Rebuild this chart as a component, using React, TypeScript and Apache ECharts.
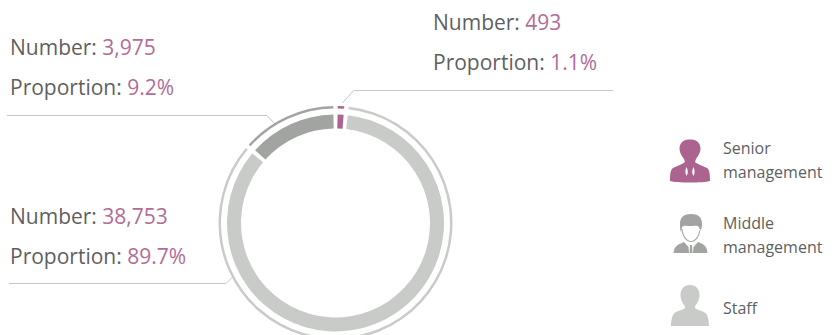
import React, { useEffect, useRef } from "react";
import * as echarts from "echarts";

const categories = ["Senior management", "Staff", "Middle management"];
const numbers = [493, 38753, 3975];
const proportions = ["1.1%", "89.7%", "9.2%"];
// Share of the ring each arc occupies in the picture (percent).
const arcShares = [1.5, 84.9, 13.6];
const colors = ["#ad6390", "#c9cbc9", "#a2a4a2"];

const FONT = '"Open Sans", sans-serif';
const TEXT = "#5f5f5f";
const VALUE = "#b26c98";
const LINE = "#c6c6c6";

const senior =
  "M30 9.5C36 9.5 40 12 40.5 18C40.5 23 38 26 36 29L35 32C37 34 43 36 47 38C49.5 39.5 50 44 50 51C44 53 16 53 10 51C10 44 10.5 39.5 13 38C17 36 23 34 25 32L24 29C22 26 19.5 23 19.5 18C20 12 24 9.5 30 9.5Z" +
  "M26.5 37C25 40 25 43 26.5 46C28.5 43 28 40 26.5 37Z" +
  "M33.5 37C32 40 31.5 43 33.5 46C35 43 35 40 33.5 37Z";
const middle =
  "M31 9C38 9 42 12 42 19C42 23 41 25 40 27L39 22C37 20 34 21 30 21C26 21 24 20 22 22L21 27C20 25 20 22 20 19C20 12 24 9 31 9Z" +
  "M21.5 24C22 31 26 37 31 37C36 37 40 31 40.5 24L39.5 24C39 30 35.5 36 31 36C26.5 36 23 30 22.5 24Z" +
  "M13.5 48C14 42 17 39.5 24 37L28.5 42L29 48Z" +
  "M30 40L32 40L32.5 48L29.6 48Z" +
  "M47.5 48C47 42 45 39.5 38 37L33.5 42L33 48Z";
const staff =
  "M30 10C36 10 39.5 14 39.5 20C39.5 25 37 29 35 31L35 33C37 35 43 36 45.5 38C48 40 49 46 49 51L11 51C11 46 12 40 14.5 38C17 36 23 35 25 33L25 31C23 29 20.5 25 20.5 20C20.5 14 24 10 30 10Z";

echarts.graphic.registerShape("iconSenior", echarts.graphic.extendPath(senior, {}) as any);
echarts.graphic.registerShape("iconMiddle", echarts.graphic.extendPath(middle, {}) as any);
echarts.graphic.registerShape("iconStaff", echarts.graphic.extendPath(staff, {}) as any);

const fmt = (n: number) => n.toLocaleString("en-US");

const callout = (i: number, x: number, y: number) => ({
  type: "text",
  x,
  y,
  silent: true,
  style: {
    text: `{a|Number: }{b|${fmt(numbers[i])}}\n{a|Proportion: }{b|${proportions[i]}}`,
    rich: {
      a: { fontFamily: FONT, fontSize: 21, fill: TEXT, color: TEXT, lineHeight: 40 },
      b: { fontFamily: FONT, fontSize: 21, fill: VALUE, color: VALUE, lineHeight: 40 },
    },
    font: `21px ${FONT}`,
  },
});

const leader = (points: number[][]) => ({
  type: "polyline",
  silent: true,
  shape: { points },
  style: { stroke: LINE, lineWidth: 1, fill: "none" },
});

const legendText = (text: string, x: number, y: number) => ({
  type: "text",
  x,
  y,
  silent: true,
  style: { text, fontFamily: FONT, fontSize: 16, fill: TEXT, lineHeight: 24, textVerticalAlign: "middle" },
});

export default function App() {
  const ref = useRef<HTMLDivElement>(null);
  useEffect(() => {
    const chart = echarts.init(ref.current!, undefined, { renderer: "svg" });
    const data = categories.map((name, i) => ({
      name,
      value: arcShares[i],
      itemStyle: { color: colors[i] },
    }));
    const ring = (radius: number[]) => ({
      type: "pie",
      center: [335.5, 223],
      radius,
      startAngle: 90,
      padAngle: 2.2,
      silent: true,
      label: { show: false },
      labelLine: { show: false },
      data,
    });
    chart.setOption({
      animation: false,
      backgroundColor: "#fff",
      series: [ring([94.5, 108.5]), ring([114.5, 117])],
      graphic: [
        callout(0, 433, 2),
        callout(2, 10, 27),
        callout(1, 10, 196),
        leader([[342.5, 103], [353.5, 90.5], [613, 90.5]]),
        leader([[7, 115.5], [267, 115.5], [275, 124]]),
        leader([[9, 283.5], [226, 283.5], [232.5, 277]]),
        { type: "iconSenior", x: 660, y: 130, silent: true, style: { fill: colors[0] } },
        { type: "iconMiddle", x: 660, y: 205, silent: true, style: { fill: colors[2] } },
        { type: "iconStaff", x: 660, y: 275, silent: true, style: { fill: colors[1] } },
        legendText("Senior", 723, 148),
        legendText("management", 723, 172),
        legendText("Middle", 723, 223),
        legendText("management", 723, 247),
        legendText("Staff", 723, 308),
      ],
    });
    return () => chart.dispose();
  }, []);
  return <div ref={ref} style={{ position: "fixed", left: 0, top: 0, width: 834, height: 335 }} />;
}
